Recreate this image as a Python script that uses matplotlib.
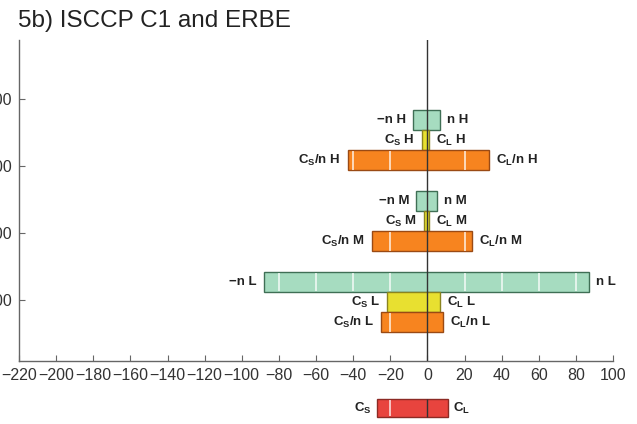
import numpy as np
import matplotlib.pyplot as plt

plt.rcParams['font.family'] = ['Liberation Sans', 'DejaVu Sans']
plt.rcParams['mathtext.default'] = 'regular'

# cloud layers (high, middle, low)
levels = ['H', 'M', 'L']
n_neg = [-8, -6, -88]       # -n
n_pos = [7, 5.4, 87]        # n
c_s = [-3, -1.6, -21.6]     # C_S
c_l = [1, 1, 7]             # C_L
cs_n = [-43, -30, -25]      # C_S/n
cl_n = [33, 24, 8.6]        # C_L/n
total_cs = -27
total_cl = 11
xticks = list(range(-220, 101, 20))
yticks = [200, 400, 600, 800]

# layout of rows (pressure axis)
group_top = [233, 475, 716]
row_h = 60

green, green_e = '#a6dcc0', '#3f6f55'
yellow, yellow_e = '#e8e030', '#8a8420'
orange, orange_e = '#f7841f', '#9a4a14'
red, red_e = '#e8443e', '#8c2a24'
txt = '#222222'
lab_fs = 9.5

fig = plt.figure(figsize=(6.37, 4.24), dpi=100)
ax = fig.add_axes([19/637, 1-361/424, (613-19)/637, (361-40)/424])
ax.set_xlim(-220, 100)
ax.set_ylim(982, 24)


def bar(ax, yc, lo, hi, fc, ec, white=True):
    ax.barh(yc, hi - lo, left=lo, height=row_h, color=fc, edgecolor=ec,
            linewidth=1.0, zorder=2)
    if white:
        for g in range(-200, 101, 20):
            if lo < g < hi and g != 0:
                ax.vlines(g, yc - row_h/2 + 2, yc + row_h/2 - 2,
                          color='white', lw=1.3, alpha=0.75, zorder=3)


def labels(ax, yc, lo, hi, left_txt, right_txt):
    ax.annotate(left_txt, (lo, yc), xytext=(-5, 0), textcoords='offset points',
                ha='right', va='center', fontsize=lab_fs, fontweight='bold',
                color=txt)
    ax.annotate(right_txt, (hi, yc), xytext=(5, 0), textcoords='offset points',
                ha='left', va='center', fontsize=lab_fs, fontweight='bold',
                color=txt)


for i, lev in enumerate(levels):
    y0 = group_top[i] + row_h / 2
    y1 = y0 + row_h
    y2 = y1 + row_h
    bar(ax, y0, n_neg[i], n_pos[i], green, green_e)
    labels(ax, y0, n_neg[i], n_pos[i], '\u2212n ' + lev, 'n ' + lev)
    bar(ax, y1, c_s[i], c_l[i], yellow, yellow_e, white=False)
    labels(ax, y1, c_s[i], c_l[i], 'C$_S$ ' + lev, 'C$_L$ ' + lev)
    bar(ax, y2, cs_n[i], cl_n[i], orange, orange_e)
    labels(ax, y2, cs_n[i], cl_n[i], 'C$_S$/n ' + lev, 'C$_L$/n ' + lev)

ax.axvline(0, color='#333333', lw=1.0, zorder=4)

for s in ['top', 'right']:
    ax.spines[s].set_visible(False)
for s in ['left', 'bottom']:
    ax.spines[s].set_color('#666666')
    ax.spines[s].set_linewidth(1.0)
ax.set_xticks(xticks)
ax.set_yticks(yticks)
ax.tick_params(direction='in', length=4, color='#666666', labelcolor='#333333',
               labelsize=11.5, pad=5)

# net cloud forcing bar below the axis
ax2 = fig.add_axes([19/637, 1-423/424, (613-19)/637, 30/424])
ax2.set_xlim(-220, 100)
ax2.set_ylim(0, 1)
ax2.axis('off')
ax2.barh(0.5, total_cl - total_cs, left=total_cs, height=0.6, color=red,
         edgecolor=red_e, linewidth=1.0)
for g in range(-200, 101, 20):
    if total_cs < g < total_cl and g != 0:
        ax2.vlines(g, 0.22, 0.78, color='white', lw=1.3, alpha=0.75)
ax2.vlines(0, 0.2, 0.8, color='#333333', lw=1.0)
ax2.annotate('C$_S$', (total_cs, 0.5), xytext=(-4, 0), textcoords='offset points',
             ha='right', va='center', fontsize=lab_fs, fontweight='bold', color=txt)
ax2.annotate('C$_L$', (total_cl, 0.5), xytext=(4, 0), textcoords='offset points',
             ha='left', va='center', fontsize=lab_fs, fontweight='bold', color=txt)

fig.text(18/637, 1-10/424, '5b) ISCCP C1 and ERBE', ha='left', va='top',
         fontsize=17.5, color=txt)

fig.savefig('out.png', dpi=100)
